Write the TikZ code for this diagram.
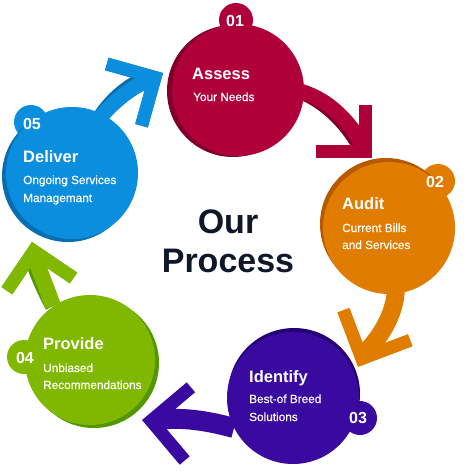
\documentclass[tikz,border=0pt]{standalone}
\usepackage{fontspec}
\setmainfont{Liberation Sans}
\newfontfamily\subfont[FakeBold=0.4]{Liberation Sans}
\usetikzlibrary{calc}
\definecolor{cred}{RGB}{176,0,58}
\definecolor{credd}{RGB}{128,0,42}
\definecolor{corg}{RGB}{224,124,0}
\definecolor{corgd}{RGB}{184,88,0}
\definecolor{cpur}{RGB}{58,10,160}
\definecolor{cpurd}{RGB}{38,0,118}
\definecolor{cgrn}{RGB}{128,184,0}
\definecolor{cgrnd}{RGB}{82,150,0}
\definecolor{cblu}{RGB}{12,142,222}
\definecolor{cblud}{RGB}{8,110,176}
\definecolor{ctxt}{RGB}{15,23,41}
\tikzset{
  headline/.style={line width=13pt, line join=miter, miter limit=10, line cap=butt},
  stemline/.style={line width=#1, line cap=butt},
  ttl/.style={anchor=base west, text=white, font=\fontsize{16.5}{18}\selectfont\bfseries, inner sep=0pt},
  sub/.style={anchor=base west, text=white, font=\subfont\fontsize{11.8}{14}\selectfont, inner sep=0pt},
  num/.style={anchor=base, text=white, font=\fontsize{16}{18}\selectfont\bfseries, inner sep=0pt},
  big/.style={anchor=base, text=ctxt, font=\fontsize{34}{38}\selectfont\bfseries, inner sep=0pt}
}
\begin{document}
\begin{tikzpicture}[x=1pt,y=-1pt]
\useasboundingbox (0,0) rectangle (464,474);
% ---------- coordinates ----------
\coordinate (c1) at (238,90);  \coordinate (b1) at (236,20);
\coordinate (c2) at (389,228); \coordinate (b2) at (438,181);
\coordinate (c3) at (293,398); \coordinate (b3) at (360,418);
\coordinate (c4) at (90,360);  \coordinate (b4) at (24,357);
\coordinate (c5) at (72,173);  \coordinate (b5) at (31,122);
% arrow 1 (red)
\coordinate (r0) at (296,90); \coordinate (rc) at (365.5,151.5);
\coordinate (ra) at (316,151.5); \coordinate (rb) at (365.5,105);
% arrow 2 (orange)
\coordinate (o0) at (396,286); \coordinate (oc) at (361.8,358.6);
\coordinate (oa) at (343.4,310.1); \coordinate (ob) at (410.3,340.2);
% arrow 3 (purple)
\coordinate (p0) at (234,428); \coordinate (pc) at (151.2,420.8);
\coordinate (pa) at (190.9,387.3); \coordinate (pb) at (184.7,460.5);
% arrow 4 (green)
\coordinate (g0) at (53,306); \coordinate (gc) at (33.75,251);
\coordinate (ga) at (73.5,278); \coordinate (gb) at (6.9,290.7);
% arrow 5 (blue)
\coordinate (u0) at (98,120); \coordinate (uc) at (155,77.5);
\coordinate (ua) at (141.5,125.7); \coordinate (ub) at (106.8,64);
% ---------- arrows ----------
\begin{scope}[shift={(-2,3)}]
  \draw[credd, stemline=15pt] (r0) .. controls (330,98) and (352,125) .. (363,146);
  \draw[credd, headline] (ra) -- (rc) -- (rb);
\end{scope}
\draw[cred, stemline=15pt] (r0) .. controls (330,98) and (352,125) .. (363,146);
\draw[cred, headline] (ra) -- (rc) -- (rb);

\draw[corg, stemline=18pt] (o0) .. controls (396,312) and (382,335) .. (366,352);
\draw[corg, headline] (oa) -- (oc) -- (ob);

\draw[cpur, stemline=20pt] (p0) .. controls (205,420) and (180,417) .. (157,420);
\draw[cpur, headline] (pa) -- (pc) -- (pb);

\begin{scope}[shift={(-2,3)}]
  \draw[cgrnd, stemline=16pt] (g0) .. controls (46,286) and (39,270) .. (35,257);
  \draw[cgrnd, headline] (ga) -- (gc) -- (gb);
\end{scope}
\draw[cgrn, stemline=16pt] (g0) .. controls (46,286) and (39,270) .. (35,257);
\draw[cgrn, headline] (ga) -- (gc) -- (gb);

\begin{scope}[shift={(-3,-2)}]
  \draw[cblud, stemline=15pt] (u0) .. controls (115,100) and (133,86) .. (150,80);
  \draw[cblud, headline] (ua) -- (uc) -- (ub);
\end{scope}
\draw[cblu, stemline=15pt] (u0) .. controls (115,100) and (133,86) .. (150,80);
\draw[cblu, headline] (ua) -- (uc) -- (ub);
% ---------- circles ----------
\fill[cred] (b1) circle (17);
\fill[credd] ($(c1)+(-5,1)$) circle (66);
\fill[cred] (c1) circle (66);

\fill[corg] (b2) circle (17);
\fill[corgd] ($(c2)+(-3,-4)$) circle (66);
\fill[corg] (c2) circle (66);

\fill[cpur] (b3) circle (17);
\fill[cpurd] ($(c3)+(1,-4)$) circle (66);
\fill[cpur] (c3) circle (66);

\fill[cgrn] (b4) circle (17);
\fill[cgrnd] ($(c4)+(4,3)$) circle (65);
\fill[cgrn] (c4) circle (65);

\fill[cblu] (b5) circle (17);
\fill[cblud] ($(c5)+(-4,3)$) circle (66);
\fill[cblu] (c5) circle (66);
% ---------- texts ----------
\node[num] (n1) at (235,26) {01};
\node[ttl] (t1) at (192,79) {Assess};
\node[sub] (s1) at (193,101) {Your Needs};

\node[num] (n2) at (435,187) {02};
\node[ttl] (t2) at (342,209) {Audit};
\node[sub] (s2) at (342,232) {Current Bills};
\node[sub] (s2b) at (342,249) {and Services};

\node[num] (n3) at (358,423) {03};
\node[ttl] (t3) at (249,382) {Identify};
\node[sub] (s3) at (249,403) {Best-of Breed};
\node[sub] (s3b) at (249,421) {Solutions};

\node[num] (n4) at (25,363) {04};
\node[ttl] (t4) at (43,349) {Provide};
\node[sub] (s4) at (43,372) {Unbiased};
\node[sub] (s4b) at (43,389) {Recommendations};

\node[num] (n5) at (32,129) {05};
\node[ttl] (t5) at (23,162) {Deliver};
\node[sub] (s5) at (23,184) {Ongoing Services};
\node[sub] (s5b) at (23,202) {Managemant};

\node[big] (o1) at (228,233) {Our};
\node[big] (o2) at (228,272) {Process};
\end{tikzpicture}
\end{document}
